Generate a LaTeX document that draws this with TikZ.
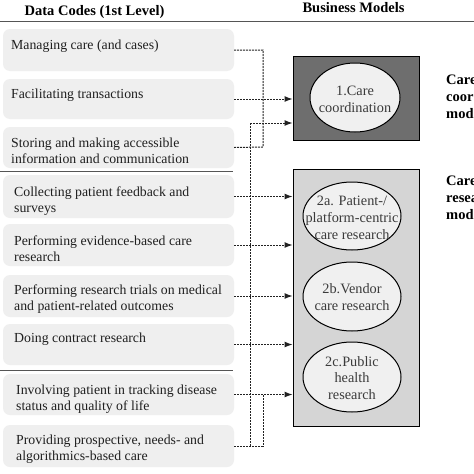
\documentclass[tikz,border=0pt]{standalone}
\usepackage{fontspec}
\setmainfont{Liberation Serif}
\usetikzlibrary{arrows.meta,shapes.geometric}
\definecolor{lboxfill}{HTML}{EFEFEF}
\definecolor{darkfill}{HTML}{6E6E6E}
\definecolor{lightfill}{HTML}{D5D5D5}
\definecolor{ellfill}{HTML}{F0F0F0}
\definecolor{ruleclr}{HTML}{555555}
\definecolor{linkclr}{HTML}{222222}
\definecolor{elltext}{HTML}{3A3A3A}
\tikzset{
  lbox/.style={rectangle, rounded corners=7pt, fill=lboxfill, draw=none,
    minimum width=231pt, inner sep=0pt},
  ltext/.style={anchor=base west, inner sep=0pt, align=left, text=black!88,
    font=\fontsize{13.8}{16}\selectfont},
  header/.style={anchor=base, inner sep=0pt, font=\fontsize{14.5}{17}\selectfont\bfseries},
  sidelabel/.style={anchor=base west, inner sep=0pt, align=left,
    font=\fontsize{14.5}{17}\selectfont\bfseries},
  modelbox/.style={rectangle, draw=black, line width=1pt, inner sep=0pt},
  ell/.style={ellipse, draw=black, line width=1pt, fill=ellfill, inner sep=0pt},
  elltxt/.style={inner sep=0pt, align=center, text=elltext,
    font=\fontsize{14.3}{16.8}\selectfont},
  link/.style={draw=linkclr, line width=1pt, dash pattern=on 2pt off 1pt},
  arr/.style={link, -{Latex[length=8pt,width=6pt]}},
  sep/.style={draw=ruleclr, line width=1pt}
}
\begin{document}
\begin{tikzpicture}[x=1pt,y=-1pt]
\useasboundingbox (0,0) rectangle (474,474);
\clip (0,0) rectangle (474,474);
\fill[white] (0,0) rectangle (474,474);

% headers
\node[header] (h1) at (94.5,15) {Data Codes (1st Level)};
\node[header] (h2) at (353.5,12.5) {Business Models};
\draw[sep] (0,21) -- (474,21);

% left boxes
\node[lbox, minimum height=42pt] (b1) at (118.5,50) {};
\node[lbox, minimum height=40pt] (b2) at (118.5,99) {};
\node[lbox, minimum height=41pt] (b3) at (118.5,147.5) {};
\node[lbox, minimum height=43pt] (b4) at (118.5,196.5) {};
\node[lbox, minimum height=42pt] (b5) at (118.5,245) {};
\node[lbox, minimum height=42pt] (b6) at (118.5,296) {};
\node[lbox, minimum height=41pt] (b7) at (118.5,344.5) {};
\node[lbox, minimum height=41pt] (b8) at (118.5,394.5) {};
\node[lbox, minimum height=42pt] (b9) at (118.5,446) {};

% (base anchor of a multi-line node = baseline of its last line)
\node[ltext] (t1) at (11,49) {Managing care (and cases)};
\node[ltext] (t2) at (11,98.3) {Facilitating transactions};
\node[ltext] (t3) at (11,163) {Storing and making accessible\\information and communication};
\node[ltext] (t4) at (14,212) {Collecting patient feedback and\\surveys};
\node[ltext] (t5) at (14,261) {Performing evidence-based care\\research};
\node[ltext] (t6) at (14,310) {Performing research trials on medical\\and patient-related outcomes};
\node[ltext] (t7) at (14,342.5) {Doing contract research};
\node[ltext] (t8) at (16,410) {Involving patient in tracking disease\\status and quality of life};
\node[ltext] (t9) at (16,460) {Providing prospective, needs- and\\algorithmics-based care};

\draw[sep] (0,171.5) -- (233,171.5);
\draw[sep] (0,370) -- (233,370);

% right model boxes
\node[modelbox, fill=darkfill, minimum width=126pt, minimum height=84pt] (m1) at (356,98) {};
\node[modelbox, fill=lightfill, minimum width=126pt, minimum height=257pt] (m2) at (356,297.5) {};

\node[ell, minimum width=90pt, minimum height=69pt] (e1) at (355,97.5) {};
\node[ell, minimum width=98pt, minimum height=68pt] (e2a) at (352,216) {};
\node[ell, minimum width=98pt, minimum height=69pt] (e2b) at (352,296.5) {};
\node[ell, minimum width=98pt, minimum height=70pt] (e2c) at (352,377) {};

\node[elltxt] (l1) at ([yshift=-1.5pt]e1.center) {1.Care\\coordination};
\node[elltxt] (l2a) at ([yshift=-2pt]e2a.center) {2a. Patient-/\\platform-centric\\care research};
\node[elltxt] (l2b) at ([yshift=-0.5pt]e2b.center) {2b.Vendor\\care research};
\node[elltxt] (l2c) at ([yshift=-1pt]e2c.center) {2c.Public\\health\\research};

\node[sidelabel] (s1) at (446,118) {Care\\coordination\\model};
\node[sidelabel] (s2) at (446,219) {Care\\research\\model};

% connectors
\coordinate (j1) at (263,50);
\coordinate (j3) at (263,147);
\draw[link] (b1.east) -- (j1) -- (j3) -- (b3.east);
\draw[arr] (b2.east) -- (b2.east -| m1.west);
\coordinate (v1) at (250,123);
\coordinate (v2) at (250,446);
\draw[arr] (v1) -- (v1 -| m1.west);
\draw[link] (v1) -- (v2);
\draw[arr] (b4.east) -- (b4.east -| m2.west);
\draw[arr] (b5.east) -- (b5.east -| m2.west);
\draw[arr] (b6.east) -- (b6.east -| m2.west);
\draw[arr] (b7.east) -- (b7.east -| m2.west);
\draw[arr] (b8.east) -- (b8.east -| m2.west);
\coordinate (j9) at (263,446);
\draw[link] (b9.east) -- (j9) -- (j9 |- b8.east);
\end{tikzpicture}
\end{document}
